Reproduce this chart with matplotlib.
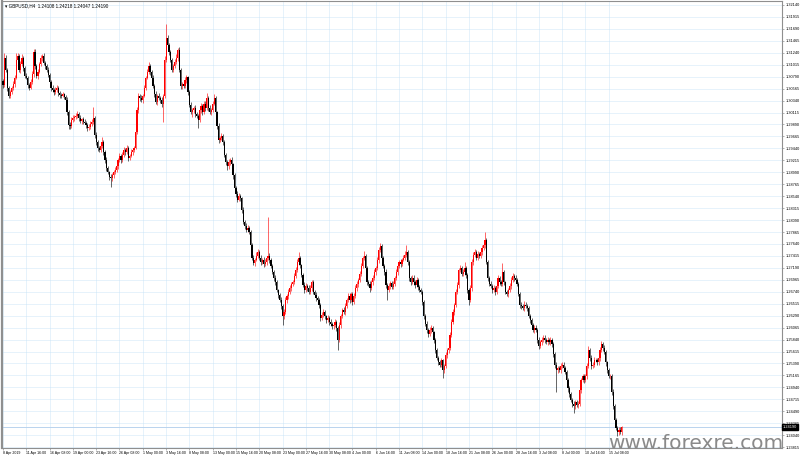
"""GBPUSD H4 candlestick chart in the MetaTrader style, saved to out.png."""
import matplotlib

matplotlib.use("Agg")
import matplotlib.pyplot as plt
import matplotlib.transforms as mtransforms

plt.rcParams["font.family"] = ["Liberation Sans", "DejaVu Sans"]

GRID = "#c4e2f7"
FRAME = "#8f8f8f"
UP, DOWN = "#ff0000", "#000000"

# closes per H4 bar, 9 Apr 00:00 -> 16 Jul 20:00
close_apr = [
    1.3063, 1.3114, 1.3092, 1.3058, 1.3043, 1.3050, 1.3058, 1.3065, 1.3077, 1.3110,
    1.3118, 1.3092, 1.3103, 1.3114, 1.3095, 1.3080, 1.3077, 1.3063, 1.3058, 1.3069,
    1.3084, 1.3126, 1.3099, 1.3080, 1.3088, 1.3103, 1.3114, 1.3118, 1.3105, 1.3099,
    1.3092, 1.3082, 1.3069, 1.3058, 1.3054, 1.3050, 1.3054, 1.3058, 1.3048, 1.3044,
    1.3043, 1.3046, 1.3041, 1.3035, 1.3012, 1.2988, 1.2986, 1.2997, 1.3001, 1.3003,
    1.3005, 1.3009, 1.3001, 1.2996, 1.2999, 1.2994, 1.2992, 1.2988, 1.2982, 1.2984,
    1.2990, 1.2994, 1.3001, 1.2969, 1.2956, 1.2945, 1.2941, 1.2949, 1.2956, 1.2937,
    1.2922, 1.2907, 1.2899, 1.2891, 1.2888, 1.2893, 1.2899, 1.2903, 1.2910, 1.2922,
    1.2930, 1.2922, 1.2932, 1.2941, 1.2937, 1.2945, 1.2926, 1.2930, 1.2937, 1.2941,
    1.2945, 1.2975, 1.3016, 1.3043, 1.3039, 1.3035,
]
close_may = [
    1.3043, 1.3058, 1.3077, 1.3088, 1.3099, 1.3088, 1.3077, 1.3061, 1.3046, 1.3031,
    1.3043, 1.3039, 1.3035, 1.3028, 1.3043, 1.3110, 1.3152, 1.3139, 1.3126, 1.3110,
    1.3092, 1.3099, 1.3107, 1.3114, 1.3129, 1.3092, 1.3061, 1.3065, 1.3061, 1.3073,
    1.3078, 1.3050, 1.3026, 1.3012, 1.3016, 1.3020, 1.3009, 1.3005, 1.2997, 1.3016,
    1.3024, 1.3012, 1.3028, 1.3020, 1.3039, 1.3020, 1.3012, 1.3016, 1.3028, 1.3039,
    1.3012, 1.2986, 1.2960, 1.2964, 1.2967, 1.2956, 1.2932, 1.2918, 1.2910, 1.2918,
    1.2922, 1.2914, 1.2893, 1.2869, 1.2858, 1.2847, 1.2854, 1.2850, 1.2828, 1.2805,
    1.2798, 1.2790, 1.2794, 1.2787, 1.2762, 1.2738, 1.2728, 1.2734, 1.2742, 1.2749,
    1.2738, 1.2730, 1.2734, 1.2726, 1.2730, 1.2738, 1.2742, 1.2734, 1.2723, 1.2711,
    1.2700, 1.2692, 1.2677, 1.2668, 1.2659, 1.2647, 1.2628, 1.2636, 1.2659, 1.2666,
    1.2674, 1.2681, 1.2689, 1.2692, 1.2704, 1.2715, 1.2730, 1.2738, 1.2724, 1.2706,
    1.2687, 1.2677, 1.2685, 1.2681, 1.2674, 1.2681, 1.2692, 1.2674, 1.2668, 1.2662,
    1.2659, 1.2649, 1.2625, 1.2630, 1.2636, 1.2628, 1.2621, 1.2625, 1.2617, 1.2613,
    1.2609, 1.2611, 1.2617, 1.2606, 1.2583, 1.2611, 1.2628, 1.2640,
]
close_jun = [
    1.2636, 1.2647, 1.2659, 1.2666, 1.2659, 1.2670, 1.2655, 1.2666, 1.2681, 1.2689,
    1.2696, 1.2708, 1.2723, 1.2738, 1.2742, 1.2719, 1.2692, 1.2689, 1.2681, 1.2692,
    1.2700, 1.2711, 1.2719, 1.2734, 1.2753, 1.2760, 1.2738, 1.2723, 1.2711, 1.2687,
    1.2677, 1.2685, 1.2691, 1.2683, 1.2689, 1.2700, 1.2711, 1.2723, 1.2730, 1.2726,
    1.2734, 1.2738, 1.2744, 1.2749, 1.2730, 1.2700, 1.2692, 1.2700, 1.2692, 1.2687,
    1.2696, 1.2683, 1.2677, 1.2674, 1.2655, 1.2628, 1.2613, 1.2602, 1.2594, 1.2602,
    1.2606, 1.2598, 1.2583, 1.2564, 1.2549, 1.2541, 1.2537, 1.2545, 1.2526, 1.2534,
    1.2555, 1.2564, 1.2568, 1.2593, 1.2617, 1.2636, 1.2649, 1.2674, 1.2687, 1.2715,
    1.2719, 1.2708, 1.2711, 1.2719, 1.2706, 1.2677, 1.2659, 1.2681, 1.2730, 1.2744,
    1.2749, 1.2738, 1.2745, 1.2742, 1.2749, 1.2756, 1.2762, 1.2772, 1.2730, 1.2700,
    1.2689, 1.2685, 1.2677, 1.2681, 1.2674, 1.2685, 1.2700, 1.2692, 1.2689, 1.2711,
    1.2692, 1.2674, 1.2670, 1.2677, 1.2685, 1.2696, 1.2704, 1.2700, 1.2696, 1.2689,
]
close_jul = [
    1.2670, 1.2650, 1.2647, 1.2643, 1.2650, 1.2647, 1.2643, 1.2628, 1.2621, 1.2611,
    1.2602, 1.2606, 1.2602, 1.2583, 1.2572, 1.2579, 1.2583, 1.2587, 1.2583, 1.2579,
    1.2583, 1.2579, 1.2583, 1.2576, 1.2557, 1.2537, 1.2526, 1.2530, 1.2526, 1.2534,
    1.2537, 1.2530, 1.2523, 1.2508, 1.2492, 1.2481, 1.2470, 1.2463, 1.2459, 1.2466,
    1.2461, 1.2463, 1.2489, 1.2508, 1.2515, 1.2508, 1.2515, 1.2534, 1.2564, 1.2549,
    1.2534, 1.2537, 1.2545, 1.2545, 1.2541, 1.2549, 1.2564, 1.2576, 1.2568, 1.2560,
    1.2541, 1.2526, 1.2515, 1.2515, 1.2485, 1.2459, 1.2432, 1.2418, 1.2410, 1.2414,
    1.24108, 1.24190,
]
first_open = 1.3070

# wick lengths in pips beyond the body (upper / lower)
wick_up = [
    4, 9, 5, 3, 4, 3, 4, 5, 6, 13, 6, 4, 5, 7, 3, 4, 5, 3, 4, 5,
    6, 6, 5, 4, 5, 4, 5, 4, 6, 4, 3, 5, 4, 3, 5, 4, 6, 5, 3, 4,
    4, 5, 3, 4, 5, 4, 6, 7, 5, 4, 5, 6, 4, 5, 3, 4, 5, 4, 3, 5,
    5, 6, 21, 4, 5, 3, 4, 6, 10, 4, 3, 5, 4, 3, 4, 5, 4, 6, 5, 4,
    5, 4, 6, 5, 4, 6, 3, 4, 5, 4, 3, 4, 5, 6, 4, 5, 4, 5, 4, 6,
    8, 4, 3, 5, 4, 6, 4, 5, 4, 5, 4, 8, 26, 5, 4, 3, 5, 4, 5, 7,
    4, 5, 3, 4, 6, 5, 4, 3, 4, 5, 4, 3, 5, 4, 3, 6, 5, 4, 6, 5,
    9, 4, 5, 4, 6, 7, 4, 3, 5, 4, 6, 5, 4, 3, 5, 6, 4, 5, 3, 4,
    4, 5, 6, 4, 3, 5, 4, 5, 6, 4, 3, 4, 5, 4, 6, 5, 4, 5, 4, 6,
    5, 4, 73, 5, 4, 3, 4, 5, 4, 3, 4, 5, 4, 6, 5, 4, 5, 6, 4, 5,
    5, 6, 5, 11, 4, 3, 4, 5, 6, 4, 5, 6, 5, 4, 3, 5, 4, 3, 4, 6,
    5, 4, 3, 5, 4, 5, 4, 3, 5, 4, 3, 6, 5, 4, 6, 5, 4, 6, 5, 4,
    4, 5, 6, 5, 4, 6, 5, 4, 8, 4, 3, 4, 5, 4, 6, 5, 4, 6, 5, 6,
    4, 3, 4, 5, 4, 5, 4, 3, 5, 4, 5, 6, 4, 5, 4, 5, 6, 13, 4, 3,
    4, 6, 5, 4, 5, 4, 3, 5, 4, 3, 4, 5, 4, 6, 5, 4, 3, 4, 5, 4,
    4, 5, 3, 4, 6, 5, 4, 5, 6, 5, 4, 6, 5, 4, 5, 4, 5, 11, 4, 3,
    4, 6, 5, 4, 5, 4, 5, 4, 5, 6, 5, 15, 4, 3, 4, 5, 4, 5, 4, 6,
    5, 4, 5, 17, 4, 3, 4, 5, 6, 5, 6, 4, 5, 4, 3, 4, 5, 4, 6, 5,
    4, 5, 4, 3, 4, 6, 5, 4, 5, 4, 6, 6, 5, 4, 5, 4, 5, 4, 3, 4,
    4, 5, 4, 6, 5, 4, 5, 4, 3, 4, 5, 4, 5, 4, 5, 6, 5, 4, 5, 4,
    5, 6, 7, 4, 5, 4, 6, 5, 4, 5, 6, 5, 4, 5, 4, 3, 4, 5, 4, 5,
    4, 5, 4, 5, 6, 2.8,
]
wick_dn = [
    6, 4, 5, 6, 5, 4, 3, 4, 5, 3, 5, 4, 6, 3, 5, 4, 3, 6, 4, 3,
    4, 5, 6, 4, 5, 3, 4, 5, 4, 6, 5, 4, 5, 6, 4, 5, 3, 4, 5, 6,
    5, 3, 4, 6, 5, 7, 5, 4, 3, 5, 4, 3, 5, 4, 6, 4, 3, 5, 6, 4,
    4, 3, 5, 6, 5, 6, 4, 3, 4, 5, 6, 5, 4, 6, 17, 5, 4, 3, 4, 5,
    4, 6, 3, 4, 5, 3, 6, 4, 3, 5, 4, 3, 4, 5, 6, 4, 5, 3, 4, 3,
    4, 5, 6, 4, 5, 4, 6, 4, 5, 6, 34, 4, 3, 5, 6, 4, 5, 4, 3, 5,
    5, 4, 6, 5, 4, 3, 5, 6, 5, 4, 9, 6, 5, 4, 15, 4, 5, 6, 4, 5,
    4, 5, 4, 6, 4, 3, 5, 6, 5, 4, 5, 6, 4, 5, 6, 4, 5, 4, 6, 5,
    5, 4, 3, 5, 6, 4, 5, 4, 3, 5, 6, 5, 4, 5, 3, 4, 5, 6, 4, 5,
    4, 5, 4, 6, 5, 4, 5, 6, 4, 5, 4, 6, 17, 5, 4, 6, 5, 4, 5, 4,
    4, 5, 4, 5, 6, 5, 4, 5, 4, 6, 5, 4, 6, 5, 4, 5, 6, 5, 7, 4,
    4, 5, 6, 4, 5, 4, 6, 5, 4, 6, 19, 4, 5, 4, 3, 5, 4, 5, 6, 4,
    5, 4, 4, 5, 6, 4, 5, 4, 5, 4, 6, 5, 8, 4, 5, 4, 5, 4, 5, 4,
    5, 4, 5, 6, 19, 4, 5, 4, 3, 5, 4, 5, 4, 5, 4, 3, 5, 4, 5, 6,
    5, 4, 5, 6, 4, 5, 4, 5, 6, 5, 4, 5, 6, 4, 5, 4, 5, 6, 4, 5,
    5, 4, 15, 5, 4, 5, 6, 4, 5, 4, 5, 4, 5, 6, 4, 5, 4, 5, 6, 5,
    9, 4, 5, 6, 4, 5, 4, 5, 4, 5, 4, 5, 4, 6, 5, 4, 5, 4, 6, 4,
    4, 5, 4, 5, 6, 5, 4, 5, 4, 5, 4, 5, 6, 5, 4, 6, 5, 4, 5, 4,
    5, 4, 5, 6, 4, 5, 4, 5, 6, 4, 5, 4, 5, 4, 5, 4, 5, 6, 5, 6,
    41, 5, 4, 5, 4, 5, 4, 5, 6, 5, 4, 6, 13, 5, 4, 5, 4, 5, 4, 5,
    4, 5, 4, 6, 5, 4, 5, 4, 5, 4, 5, 4, 5, 4, 6, 5, 4, 5, 6, 5,
    5, 4, 8, 5, 4, 6.1,
]

time_labels = [
    "8 Apr 2019", "11 Apr 16:00", "16 Apr 08:00", "19 Apr 00:00", "23 Apr 16:00",
    "26 Apr 08:00", "1 May 00:00", "3 May 16:00", "8 May 08:00", "13 May 00:00",
    "15 May 16:00", "20 May 08:00", "23 May 00:00", "27 May 16:00", "30 May 08:00",
    "4 Jun 00:00", "6 Jun 16:00", "11 Jun 08:00", "14 Jun 00:00", "18 Jun 16:00",
    "21 Jun 08:00", "26 Jun 00:00", "28 Jun 16:00", "3 Jul 08:00", "8 Jul 00:00",
    "10 Jul 16:00", "15 Jul 08:00",
]
price_top, price_step, n_prices = 1.32140, 0.00225, 38
header = "GBPUSD,H4  1.24108 1.24218 1.24047 1.24190"

closes = close_apr + close_may + close_jun + close_jul
opens = [first_open] + closes[:-1]
xs = list(range(len(closes)))
highs = [max(o, c) + u / 10000 for o, c, u in zip(opens, closes, wick_up)]
lows = [min(o, c) - d / 10000 for o, c, d in zip(opens, closes, wick_dn)]
colors = [UP if c >= o else DOWN for o, c in zip(opens, closes)]

fig = plt.figure(figsize=(8, 4.57), dpi=100)
fig.patch.set_facecolor("white")
ax = fig.add_axes([2 / 800, 9 / 457, 780 / 800, 447 / 457])

ax.vlines(xs, lows, highs, colors=colors, linewidth=0.6, alpha=0.7, zorder=3)
ax.bar(xs, [max(abs(c - o), 0.00005) for o, c in zip(opens, closes)],
       bottom=[min(o, c) for o, c in zip(opens, closes)],
       width=0.8, color=colors, linewidth=0, zorder=4)

ax.set_xlim(-0.69, 535.0)
ax.set_ylim(1.23798, 1.32215)

# price scale on the right, time scale below
yticks = [price_top - k * price_step for k in range(n_prices)]
ax.yaxis.tick_right()
ax.set_yticks(yticks)
ax.set_yticklabels([f"{v:.5f}" for v in yticks])
xticks = [k * 16 for k in range(len(time_labels))]
ax.set_xticks(xticks)
ax.set_xticklabels(time_labels, ha="left")
ax.tick_params(axis="y", labelsize=2.8, length=1.5, width=0.5, color=FRAME, pad=0.8)
ax.tick_params(axis="x", labelsize=2.6, length=1.5, width=0.5, color=FRAME, pad=0.6)
ax.grid(True, color=GRID, linestyle=(0, (1.2, 1.2)), linewidth=0.6, zorder=0)
ax.set_axisbelow(True)
for spine in ax.spines.values():
    spine.set_color(FRAME)
    spine.set_linewidth(0.8)
ax.spines["left"].set_linewidth(1.6)

# current price line and marker
last = closes[-1]
ax.axhline(last, color="#b9d3ee", linewidth=0.7, zorder=2)
trans = mtransforms.blended_transform_factory(ax.transAxes, ax.transData)
ax.text(1.0015, last, f"{last:.5f}", transform=trans, fontsize=2.8, color="white",
        va="center", ha="left",
        bbox=dict(boxstyle="square,pad=0.25", fc="black", ec="black"))

ax.text(0.004, 0.994, "\u25be " + header, transform=ax.transAxes, fontsize=3.3,
        va="top", ha="left", color="black")

fig.text(0.979, 0.017, "www.forexre.com", fontsize=14.5, color="#8a8a8a",
         family="DejaVu Sans", ha="right", va="baseline", zorder=10)

fig.savefig("out.png", dpi=100)
